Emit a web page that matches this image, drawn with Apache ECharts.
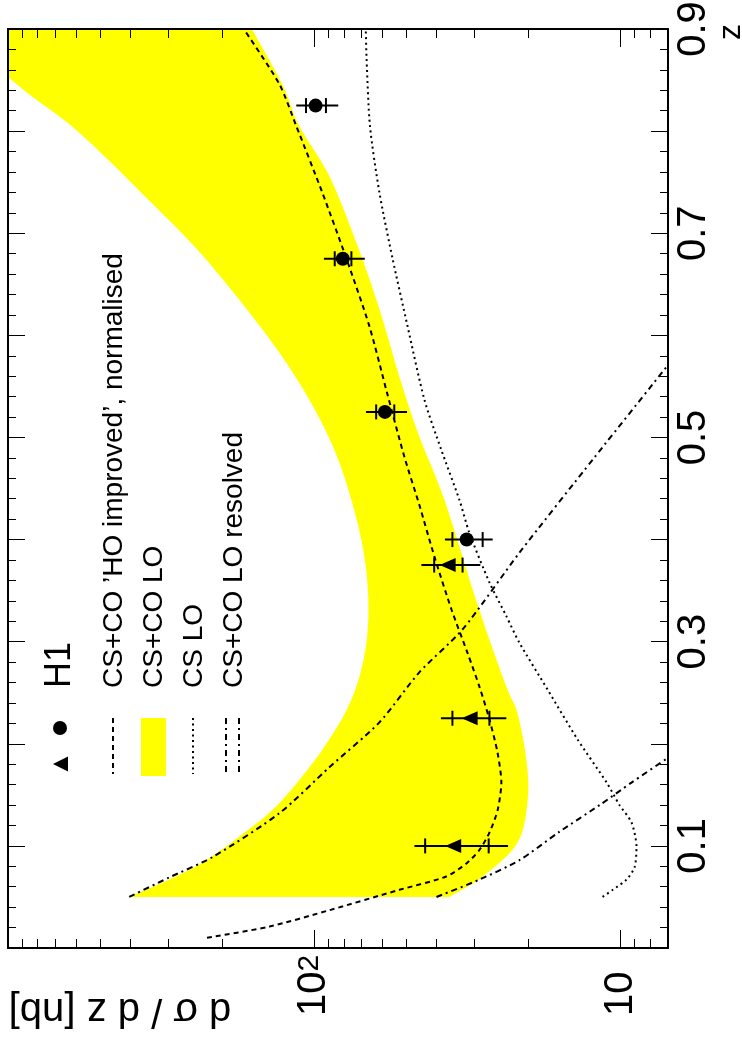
<!DOCTYPE html>
<html>
<head>
<meta charset="utf-8">
<title>dσ/dz versus z</title>
<script src="https://cdn.jsdelivr.net/npm/echarts@6.0.0/dist/echarts.min.js"></script>
<style>
html, body { margin: 0; padding: 0; background: #fff; }
#chart { width: 742px; height: 1043px; }
</style>
</head>
<body>
<div id="chart"></div>
<script>
// ---- H1 measurements: z, dσ/dz [nb], statistical and total uncertainty ----
const h1CircleZ     = [0.400, 0.525, 0.675, 0.825];
const h1CircleSigma = [31.8, 58.8, 80.7, 99.0];
const h1CircleStat  = [3.6, 4.0, 5.05, 7.4];
const h1CircleTot   = [5.65, 9.0, 12.3, 15.5];

const h1TriZ     = [0.100, 0.225, 0.375];
const h1TriSigma = [35.2, 31.1, 36.7];
const h1TriStat  = [8.25, 4.3, 3.9];
const h1TriTot   = [11.9, 7.5, 8.0];

// ---- CS+CO 'HO improved', normalised (dashed) ----
const hoZ     = [0.010, 0.021, 0.037, 0.057, 0.070, 0.083, 0.096, 0.113, 0.135, 0.162, 0.191, 0.224, 0.256,
                 0.289, 0.331, 0.383, 0.434, 0.481, 0.544, 0.609, 0.675, 0.740, 0.805, 0.846, 0.900];
const hoSigma = [224, 140, 89.3, 52.7, 37.1, 31.8, 28.9, 26.8, 25.2, 24.5, 25.2, 26.8, 28.9,
                 31.6, 35.6, 40.5, 45.4, 50.8, 57.9, 66.1, 78.5, 94.2, 114.5, 130, 170];

// ---- CS+CO LO band (yellow): upper and lower edge ----
const bandUpZ     = [0.050, 0.067, 0.086, 0.113, 0.142, 0.194, 0.243, 0.292, 0.341, 0.390, 0.439,
                     0.488, 0.537, 0.583, 0.635, 0.684, 0.730, 0.773, 0.807, 0.836, 0.868, 0.900];
const bandUpSigma = [402, 298, 225, 169, 130, 94.2, 75.7, 68.1, 66.6, 69.2, 75.7,
                     86.0, 103.8, 130, 176, 241, 341, 475, 632, 854, 1153, 1618];
const bandLowZ     = [0.050, 0.070, 0.103, 0.145, 0.184, 0.230, 0.256, 0.331, 0.439, 0.501,
                      0.560, 0.626, 0.691, 0.756, 0.805, 0.846, 0.900];
const bandLowSigma = [36.2, 28.2, 21.7, 20.1, 20.3, 21.7, 23.6, 28.9, 37.6, 45.4,
                      52.8, 61.3, 72.9, 89.3, 111.9, 127.2, 160];

// ---- CS LO (dotted) ----
const csZ     = [0.050, 0.057, 0.067, 0.079, 0.099, 0.123, 0.140, 0.162, 0.204, 0.253, 0.299, 0.325,
                 0.358, 0.407, 0.439, 0.488, 0.537, 0.609, 0.675, 0.740, 0.805, 0.871, 0.900];
const csSigma = [11.45, 10.6, 9.56, 9.0, 8.87, 9.21, 10.08, 11.1, 13.8, 17.3, 21.4, 23.6,
                 26.8, 31.2, 33.6, 38.5, 43.7, 49.6, 55.5, 61.3, 65.8, 67.5, 67.9];

// ---- CS+CO LO resolved (dash-dotted), two curves ----
const resAZ     = [0.050, 0.069, 0.089, 0.132, 0.177, 0.221, 0.270, 0.312, 0.387, 0.480, 0.579];
const resASigma = [402, 298, 215, 130, 89.3, 61.3, 45.4, 32.8, 21.4, 12.2, 6.66];
const resBZ     = [0.050, 0.067, 0.086, 0.114, 0.140, 0.162, 0.186, 0.194];
const resBSigma = [39.9, 28.9, 21.4, 15.8, 11.7, 9.21, 7.02, 6.42];

// ---- axis ticks ----
const zTickLabels     = ['0.1', '0.3', '0.5', '0.7', '0.9'];
const sigmaLabelTicks = [10, 100];
const sigmaMajorTicks = [10, 100];
const sigmaMinorTicks = [8, 9, 20, 30, 40, 50, 60, 70, 80, 90, 200, 300, 400, 500, 600, 700, 800, 900];

const FONT = '"Liberation Sans", Arial, Helvetica, sans-serif';
const zip = (xs, ys) => xs.map((x, i) => [x, ys[i]]);

// Catmull-Rom spline through pixel points, as cubic Bezier path commands
function splineCmds(pts) {
  let d = '';
  for (let i = 0; i < pts.length - 1; i++) {
    const p0 = pts[i - 1] || pts[i], p1 = pts[i], p2 = pts[i + 1], p3 = pts[i + 2] || pts[i + 1];
    const c1 = [p1[0] + (p2[0] - p0[0]) / 6, p1[1] + (p2[1] - p0[1]) / 6];
    const c2 = [p2[0] - (p3[0] - p1[0]) / 6, p2[1] - (p3[1] - p1[1]) / 6];
    d += ' C' + c1[0] + ' ' + c1[1] + ' ' + c2[0] + ' ' + c2[1] + ' ' + p2[0] + ' ' + p2[1];
  }
  return d;
}

function sigmaAxis(position, ticks, len, showLine, showLabel) {
  return {
    type: 'log', logBase: 10, min: 7, max: 1000, inverse: true,
    position: position, z: 10,
    axisLine: { show: showLine, onZero: false, lineStyle: { color: '#000', width: 2 } },
    axisTick: { show: true, inside: true, length: len, customValues: ticks,
                lineStyle: { color: '#000', width: 1 } },
    axisLabel: showLabel ? {
      show: true, customValues: sigmaLabelTicks, rotate: 90, margin: 68,
      align: 'left', verticalAlign: 'middle', color: '#000', fontFamily: FONT, fontSize: 40,
      formatter: function (v) {
        if (Math.abs(v - 100) < 1e-6) return '{b|10}{s|2}';
        if (Math.abs(v - 10) < 1e-6) return '{m|10}';
        return '';
      },
      rich: {
        m: { fontSize: 40, fontFamily: FONT, color: '#000', lineHeight: 40 },
        b: { fontSize: 40, fontFamily: FONT, color: '#000', lineHeight: 40, padding: [12, 0, 12, 0] },
        s: { fontSize: 30, fontFamily: FONT, color: '#000', lineHeight: 30, verticalAlign: 'top' }
      }
    } : { show: false },
    splitLine: { show: false },
    minorTick: { show: false },
    minorSplitLine: { show: false }
  };
}

function zAxis(position, showLabel) {
  return {
    type: 'value', min: 0, max: 0.9, interval: 0.1, position: position, z: 10,
    axisLine: { show: true, onZero: false, lineStyle: { color: '#000', width: 2 } },
    axisTick: { show: true, inside: true, length: 17, lineStyle: { color: '#000', width: 1 } },
    minorTick: { show: true, splitNumber: 5, length: 8, lineStyle: { color: '#000', width: 1 } },
    axisLabel: showLabel ? {
      show: true, rotate: 90, margin: 6, align: 'center', verticalAlign: 'top',
      color: '#000', fontFamily: FONT, fontSize: 40,
      formatter: function (v) {
        const s = v.toFixed(1);
        return zTickLabels.indexOf(s) >= 0 ? s : '';
      }
    } : { show: false },
    splitLine: { show: false }
  };
}

function lineSeries(zs, sig, dash) {
  return {
    type: 'line', xAxisIndex: 0, yAxisIndex: 0,
    data: zip(sig, zs), showSymbol: false, symbol: 'none', smooth: 0.25,
    clip: true, silent: true, z: 3, animation: false,
    lineStyle: { color: '#000', width: 2, type: dash, opacity: 1 }
  };
}

const errData = zip(h1CircleSigma, h1CircleZ).map((p, i) => [p[0], p[1], h1CircleStat[i], h1CircleTot[i]])
  .concat(zip(h1TriSigma, h1TriZ).map((p, i) => [p[0], p[1], h1TriStat[i], h1TriTot[i]]));

const chart = echarts.init(document.getElementById('chart'), null, { renderer: 'canvas' });

const rot = Math.PI / 2;
const legendText = (x, text, size) => ({
  type: 'text', x: x, y: 688, rotation: rot, z: 20,
  style: { text: text, fill: '#000', font: size + 'px ' + FONT, align: 'left', verticalAlign: 'middle' }
});
const legendLine = (x, dash) => ({
  type: 'line', z: 20,
  shape: { x1: x, y1: 718, x2: x, y2: 774 },
  style: { stroke: '#000', lineWidth: 2, lineDash: dash }
});

chart.setOption({
  animation: false,
  backgroundColor: '#fff',
  grid: { left: 8, right: 74, top: 29, bottom: 95, containLabel: false, outerBoundsMode: 'none' },
  xAxis: [
    sigmaAxis('bottom', sigmaMajorTicks, 18, true, true),
    sigmaAxis('bottom', sigmaMinorTicks, 9, false, false),
    sigmaAxis('top', sigmaMajorTicks, 18, true, false),
    sigmaAxis('top', sigmaMinorTicks, 9, false, false)
  ],
  yAxis: [
    zAxis('right', true),
    zAxis('left', false)
  ],
  series: [
    {
      // CS+CO LO band: smooth upper edge, straight join at z = 0.05, smooth lower edge back
      type: 'custom', xAxisIndex: 0, yAxisIndex: 0, clip: true, silent: true, z: 1,
      data: [[bandUpSigma[0], bandUpZ[0]]],
      encode: { x: 0, y: 1 },
      renderItem: function (params, api) {
        const up = bandUpZ.map((z, i) => api.coord([bandUpSigma[i], z]));
        const low = bandLowZ.map((z, i) => api.coord([bandLowSigma[i], z])).reverse();
        let d = 'M' + up[0][0] + ' ' + up[0][1] + splineCmds(up);
        d += ' L' + low[0][0] + ' ' + low[0][1] + splineCmds(low) + ' Z';
        return { type: 'path', shape: { pathData: d }, style: { fill: '#ffff00' } };
      }
    },
    lineSeries(csZ, csSigma, [2, 3.5]),
    lineSeries(resAZ, resASigma, [6, 4, 2, 4]),
    lineSeries(resBZ, resBSigma, [6, 4, 2, 4]),
    lineSeries(hoZ, hoSigma, [5, 4]),
    {
      // H1 error bars: total (line) with statistical end marks
      type: 'custom', xAxisIndex: 0, yAxisIndex: 0, clip: true, silent: true, z: 4,
      data: errData,
      encode: { x: 0, y: 1 },
      renderItem: function (params, api) {
        const v = api.value(0), zz = api.value(1), st = api.value(2), tot = api.value(3);
        const a = api.coord([v + tot, zz]), b = api.coord([v - tot, zz]);
        const s1 = api.coord([v + st, zz]), s2 = api.coord([v - st, zz]);
        const h = 7.5;
        const style = { stroke: '#000', lineWidth: 2 };
        return {
          type: 'group',
          children: [
            { type: 'line', shape: { x1: a[0], y1: a[1], x2: b[0], y2: b[1] }, style: style },
            { type: 'line', shape: { x1: s1[0], y1: s1[1] - h, x2: s1[0], y2: s1[1] + h }, style: style },
            { type: 'line', shape: { x1: s2[0], y1: s2[1] - h, x2: s2[0], y2: s2[1] + h }, style: style }
          ]
        };
      }
    },
    {
      type: 'scatter', xAxisIndex: 0, yAxisIndex: 0, silent: true, z: 5,
      data: zip(h1CircleSigma, h1CircleZ),
      symbol: 'circle', symbolSize: 14,
      itemStyle: { color: '#000', opacity: 1 }
    },
    {
      type: 'scatter', xAxisIndex: 0, yAxisIndex: 0, silent: true, z: 5,
      data: zip(h1TriSigma, h1TriZ),
      symbol: 'triangle', symbolSize: [14, 16], symbolRotate: 90,
      itemStyle: { color: '#000', opacity: 1 }
    }
  ],
  graphic: [
    // axis titles
    { type: 'text', x: 731, y: 32, rotation: rot, z: 20,
      style: { text: 'z', fill: '#000', font: '32px ' + FONT, align: 'center', verticalAlign: 'middle' } },
    { type: 'text', x: 120, y: 1010, rotation: Math.PI, z: 20,
      style: { text: 'd σ / d z [nb]', fill: '#000', font: '40px ' + FONT, align: 'center', verticalAlign: 'middle' } },
    // legend
    { type: 'circle', z: 20, shape: { cx: 60, cy: 728, r: 7 }, style: { fill: '#000' } },
    { type: 'polygon', z: 20, shape: { points: [[53, 764], [68, 756.5], [68, 771.5]] }, style: { fill: '#000' } },
    legendText(60.5, 'H1', 36),
    legendLine(113, [5, 4]),
    legendText(114, 'CS+CO ’HO improved’, normalised', 28),
    { type: 'rect', z: 20, shape: { x: 141, y: 718, width: 25, height: 58 }, style: { fill: '#ffff00' } },
    legendText(154, 'CS+CO LO', 28),
    legendLine(193, [2, 3.5]),
    legendText(194, 'CS LO', 28),
    legendLine(226, [6, 4, 2, 4]),
    legendLine(239, [6, 4, 2, 4]),
    legendText(234, 'CS+CO LO resolved', 28)
  ]
});
</script>
</body>
</html>
